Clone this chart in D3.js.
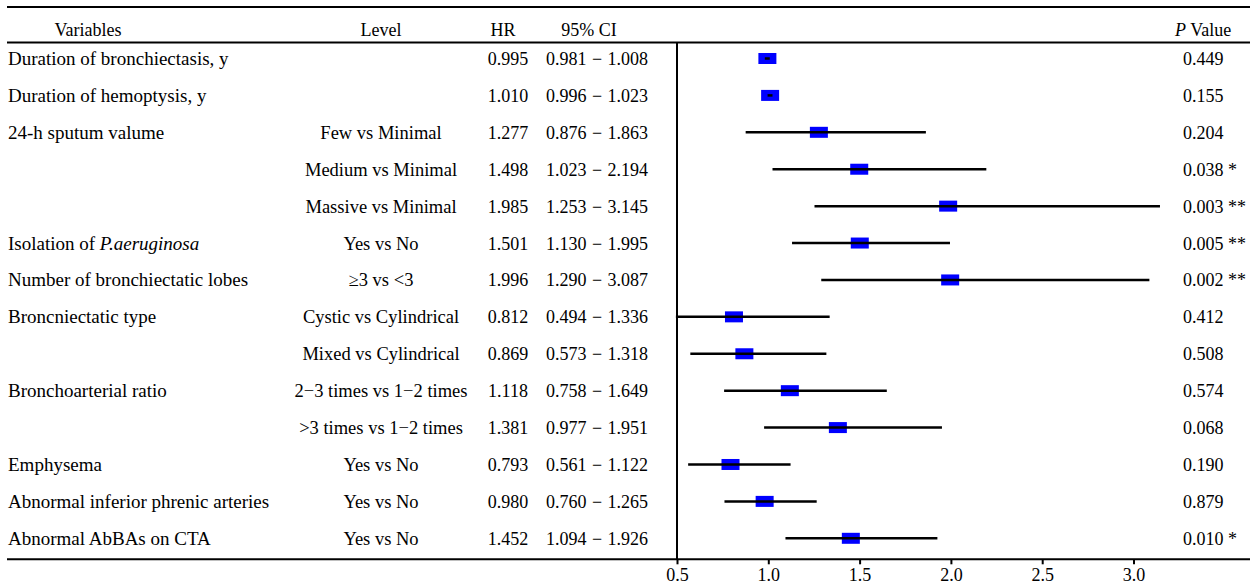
<!DOCTYPE html>
<html>
<head>
<meta charset="utf-8">
<script src="https://cdn.jsdelivr.net/npm/d3@7"></script>
<style>
    html, body { margin: 0; padding: 0; background: #fff; }
    svg { display: block; }
    text { font-family: "Liberation Serif", "Times New Roman", serif; font-size: 18px; fill: #000; }
</style>
</head>
<body>
<div id="chart"></div>
<script>
// rows of the forest plot
const variables = [
    "Duration of bronchiectasis, y", "Duration of hemoptysis, y", "24-h sputum valume", "", "",
    "Isolation of |P.aeruginosa", "Number of bronchiectatic lobes", "Broncniectatic type", "",
    "Bronchoarterial ratio", "", "Emphysema", "Abnormal inferior phrenic arteries", "Abnormal AbBAs on CTA"
];
const levels = [
    "", "", "Few vs Minimal", "Medium vs Minimal", "Massive vs Minimal",
    "Yes vs No", "\u22653 vs <3", "Cystic vs Cylindrical", "Mixed vs Cylindrical",
    "2\u22123 times vs 1\u22122 times", ">3 times vs 1\u22122 times", "Yes vs No", "Yes vs No", "Yes vs No"
];
const hr = [0.995, 1.010, 1.277, 1.498, 1.985, 1.501, 1.996, 0.812, 0.869, 1.118, 1.381, 0.793, 0.980, 1.452];
const ciLow = [0.981, 0.996, 0.876, 1.023, 1.253, 1.130, 1.290, 0.494, 0.573, 0.758, 0.977, 0.561, 0.760, 1.094];
const ciHigh = [1.008, 1.023, 1.863, 2.194, 3.145, 1.995, 3.087, 1.336, 1.318, 1.649, 1.951, 1.122, 1.265, 1.926];
const pValues = [0.449, 0.155, 0.204, 0.038, 0.003, 0.005, 0.002, 0.412, 0.508, 0.574, 0.068, 0.190, 0.879, 0.010];
const stars = ["", "", "", "*", "**", "**", "**", "", "", "", "", "", "", "*"];
const xTicks = [0.5, 1.0, 1.5, 2.0, 2.5, 3.0];

const width = 1250, height = 585;
const f3 = d3.format(".3f");

const svg = d3.select("#chart").append("svg")
    .attr("width", width)
    .attr("height", height);

const x = d3.scaleLinear().domain([0.5, 3.0]).range([677, 1133.5]);
const y = d3.scalePoint().domain(d3.range(hr.length)).range([58.5, 538.3]);

const axisY = 559.3;
const baseShift = 6.5;

// horizontal rules
svg.append("line").attr("x1", 7).attr("x2", width).attr("y1", 7).attr("y2", 7)
    .attr("stroke", "#000").attr("stroke-width", 2);
svg.append("line").attr("x1", 7).attr("x2", width).attr("y1", 42.5).attr("y2", 42.5)
    .attr("stroke", "#000").attr("stroke-width", 2);

// header
const header = svg.append("g").attr("class", "header");
header.append("text").attr("x", 88).attr("y", 36).attr("text-anchor", "middle").text("Variables");
header.append("text").attr("x", 381).attr("y", 36).attr("text-anchor", "middle").text("Level");
header.append("text").attr("x", 503).attr("y", 36).attr("text-anchor", "middle").text("HR");
header.append("text").attr("x", 589).attr("y", 36).attr("text-anchor", "middle").text("95% CI");
const pHead = header.append("text").attr("x", 1175).attr("y", 36);
pHead.append("tspan").attr("font-style", "italic").text("P");
pHead.append("tspan").text(" Value");

// table columns
const rows = svg.append("g").selectAll("g.row")
    .data(hr.map((d, i) => i))
    .enter().append("g")
    .attr("class", "row")
    .attr("transform", i => "translate(0," + (y(i) + baseShift) + ")");

rows.append("text")
    .attr("x", 8)
    .style("font-size", "19px")
    .each(function (i) {
        const parts = variables[i].split("|");
        d3.select(this).append("tspan").text(parts[0]);
        if (parts.length > 1) {
            d3.select(this).append("tspan").attr("font-style", "italic").text(parts[1]);
        }
    });

rows.append("text").attr("x", 381).attr("text-anchor", "middle")
    .style("font-size", "18.5px")
    .text(i => levels[i]);
rows.append("text").attr("x", 508).attr("text-anchor", "middle").text(i => f3(hr[i]));
rows.append("text").attr("x", 597).attr("text-anchor", "middle")
    .attr("word-spacing", 1)
    .text(i => f3(ciLow[i]) + " \u2212 " + f3(ciHigh[i]));
rows.append("text").attr("x", 1183)
    .text(i => f3(pValues[i]) + (stars[i] ? " " + stars[i] : ""));

// reference line at the left of the plot
svg.append("line").attr("x1", x(0.5)).attr("x2", x(0.5)).attr("y1", 42.5).attr("y2", axisY)
    .attr("stroke", "#000").attr("stroke-width", 2);

// boxes and CI lines
const marks = svg.append("g");
marks.selectAll("rect.box")
    .data(hr.map((d, i) => i))
    .enter().append("rect")
    .attr("class", "box")
    .attr("x", i => x(hr[i]) - 9)
    .attr("y", i => y(i) - 5.5)
    .attr("width", 18)
    .attr("height", 11)
    .attr("fill", "#0000ff");

marks.selectAll("line.ci")
    .data(hr.map((d, i) => i))
    .enter().append("line")
    .attr("class", "ci")
    .attr("x1", i => x(ciLow[i]))
    .attr("x2", i => x(ciHigh[i]))
    .attr("y1", i => y(i))
    .attr("y2", i => y(i))
    .attr("stroke", "#000")
    .attr("stroke-width", 2.5);

// x axis
svg.append("line").attr("x1", 7).attr("x2", width).attr("y1", axisY).attr("y2", axisY)
    .attr("stroke", "#000").attr("stroke-width", 2);

const xAxis = d3.axisBottom(x)
    .tickValues(xTicks)
    .tickFormat(d3.format(".1f"))
    .tickSize(5)
    .tickPadding(4);

const gx = svg.append("g")
    .attr("transform", "translate(0," + axisY + ")")
    .call(xAxis);
gx.select(".domain").remove();
gx.selectAll(".tick line").attr("stroke", "#000").attr("stroke-width", 2);
gx.selectAll(".tick text")
    .attr("font-family", "Liberation Serif, Times New Roman, serif")
    .attr("font-size", 18)
    .attr("fill", "#000");
</script>
</body>
</html>
